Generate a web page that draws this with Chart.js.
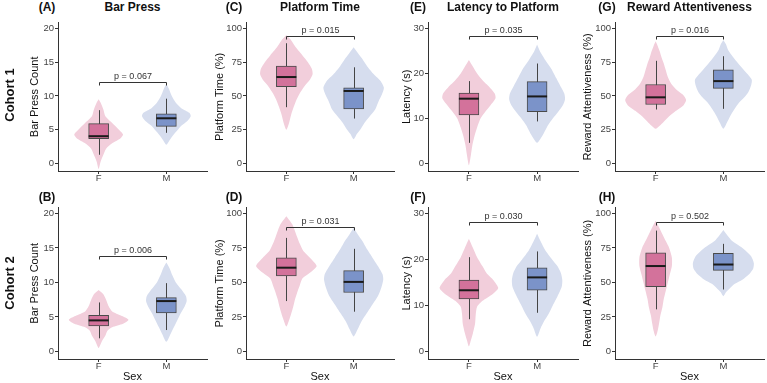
<!DOCTYPE html>
<html>
<head>
<meta charset="utf-8">
<script src="https://cdn.jsdelivr.net/npm/chart.js@4.4.1/dist/chart.umd.min.js"></script>
<style>
  body { margin: 0; background: #fff; font-family: "Liberation Sans", Arial, sans-serif; }
  #wrap { position: relative; width: 767px; height: 383px; overflow: hidden; }
  canvas { position: absolute; }
  .lbl { position: absolute; font-weight: bold; font-size: 12px; line-height: 14px; color: #111; white-space: nowrap; transform: translateX(-50%); }
  .cohort { position: absolute; font-weight: bold; font-size: 13px; line-height: 16px; color: #111; white-space: nowrap; transform: translate(-50%, -50%) rotate(-90deg); }
</style>
</head>
<body>
<div id="wrap"></div>
<script>
const sexes = ["F", "M"];
const cohorts = ["Cohort 1", "Cohort 2"];
const panelLetters = [["(A)", "(C)", "(E)", "(G)"], ["(B)", "(D)", "(F)", "(H)"]];
const panelTitles = ["Bar Press", "Platform Time", "Latency to Platform", "Reward Attentiveness"];
const yTitles = ["Bar Press Count", "Platform Time (%)", "Latency (s)", "Reward Attentiveness (%)"];
const yTickValues = [[0, 5, 10, 15, 20], [0, 25, 50, 75, 100], [0, 10, 20, 30], [0, 25, 50, 75, 100]];
const pLabels = [["p = 0.067", "p = 0.015", "p = 0.035", "p = 0.016"], ["p = 0.006", "p = 0.031", "p = 0.030", "p = 0.502"]];
const bracketY = [[12.0, 94.5, 28.2, 94.5], [13.9, 90.4, 28.1, 93.6]];

// box stats per sex: [lower whisker, q1, median, q3, upper whisker]
const boxA = [[1.3, 3.7, 4.05, 5.9, 7.9], [4.55, 5.5, 6.7, 7.35, 9.6]];
const boxC = [[41.7, 56.8, 64, 72.2, 89], [33.3, 40.5, 53.7, 56, 71.2]];
const boxE = [[4.6, 10.8, 14.4, 15.65, 18.3], [9.35, 11.5, 14.9, 18.2, 22.2]];
const boxG = [[40, 43.7, 49, 58.5, 76], [40.5, 55.6, 61, 69.3, 79.4]];
const boxB = [[1.9, 3.7, 4.5, 5.25, 7.1], [3.1, 5.6, 7.3, 7.8, 9.9]];
const boxD = [[36.5, 54.7, 60.7, 67.9, 82.3], [28.8, 42.7, 50.4, 58.6, 74.4]];
const boxF = [[7.0, 11.4, 13.3, 15.5, 20.5], [8.4, 13.3, 16.1, 18.2, 21.75]];
const boxH = [[30.5, 47, 61.9, 71.5, 87.6], [44.9, 58.8, 63, 71.2, 78]];

// violin outlines, top to bottom: [value, half width on the x scale]
const violinA_F = [[9.5,0],[9,0.03],[8,0.07],[7,0.1],[6,0.2],[5,0.3],[4.3,0.36],[3.7,0.32],[3,0.2],[2.2,0.11],[1.3,0.07],[0.3,0.03],[-0.8,0]];
const violinA_M = [[11.8,0],[11,0.04],[10,0.08],[9,0.14],[8.2,0.22],[7.5,0.34],[7,0.36],[6.3,0.31],[5.6,0.22],[4.9,0.16],[4.2,0.1],[3.5,0.05],[2.8,0]];
const violinC_F = [[95,0],[92,0.06],[86,0.14],[80,0.24],[75,0.32],[70,0.38],[66,0.39],[62,0.35],[58,0.28],[52,0.2],[46,0.14],[42,0.11],[36,0.07],[30,0.04],[25,0]];
const violinC_M = [[86,0],[82,0.06],[78,0.12],[72,0.2],[66,0.3],[61,0.4],[56,0.45],[51,0.42],[46,0.37],[40,0.32],[35,0.24],[30,0.16],[26,0.11],[22,0.05],[18,0]];
const violinE_F = [[23,0],[21.5,0.06],[20,0.12],[18.5,0.2],[17,0.3],[15.5,0.38],[14.5,0.39],[13,0.32],[11.5,0.24],[10,0.17],[8,0.12],[6,0.08],[4,0.05],[2,0.03],[-0.4,0]];
const violinE_M = [[26.4,0],[25,0.04],[23,0.12],[21,0.21],[19,0.28],[17,0.35],[15.5,0.4],[14.3,0.41],[13,0.38],[11.5,0.31],[10,0.23],[8.5,0.16],[6.5,0.09],[4.6,0]];
const violinG_F = [[90.4,0],[87,0.03],[83,0.06],[78,0.09],[74,0.12],[69,0.15],[64,0.18],[59,0.23],[55,0.3],[51,0.4],[47,0.45],[43,0.41],[39,0.3],[35,0.2],[31,0.12],[28,0.06],[25.7,0]];
const violinG_M = [[91.4,0],[88,0.04],[84,0.07],[79,0.14],[74,0.22],[70,0.29],[66,0.36],[62,0.42],[58,0.41],[53,0.37],[49,0.31],[45,0.23],[40,0.16],[35,0.1],[30,0.05],[25.7,0]];
const violinB_F = [[8.9,0],[8.3,0.07],[7.5,0.11],[6.5,0.15],[5.8,0.2],[5.2,0.33],[4.6,0.44],[4,0.36],[3.5,0.2],[3,0.13],[2.3,0.1],[1.5,0.05],[0.5,0]];
const violinB_M = [[12.9,0],[12,0.05],[11,0.09],[10,0.14],[9,0.22],[8,0.29],[7.3,0.3],[6.5,0.27],[5.5,0.21],[4.5,0.16],[3.5,0.11],[2.5,0.06],[1.4,0]];
const violinD_F = [[98,0],[92,0.09],[83,0.16],[78,0.2],[73,0.25],[68,0.35],[62,0.45],[57,0.35],[53,0.24],[48,0.2],[44,0.17],[38,0.13],[32,0.1],[24,0.05],[18,0]];
const violinD_M = [[89.5,0],[85,0.06],[80,0.13],[74,0.2],[68,0.28],[62,0.36],[56,0.43],[52,0.44],[46,0.41],[40,0.36],[34,0.28],[28,0.2],[22,0.12],[16,0.06],[10.8,0]];
const violinF_F = [[24.5,0],[22.5,0.06],[20.5,0.12],[18.5,0.2],[17,0.26],[15.5,0.36],[13.8,0.43],[12.5,0.35],[11,0.2],[9.7,0.12],[8,0.1],[6,0.09],[4,0.06],[2.5,0.03],[1.1,0]];
const violinF_M = [[25.6,0],[24,0.05],[22,0.12],[20,0.22],[18.5,0.3],[17,0.35],[15.5,0.37],[14,0.36],[12,0.3],[10,0.23],[8.2,0.17],[6.5,0.1],[5,0.05],[3.2,0]];
const violinH_F = [[94.7,0],[90,0.05],[85,0.1],[80,0.15],[75,0.2],[68,0.24],[62,0.24],[56,0.21],[50,0.18],[44,0.15],[38,0.12],[32,0.1],[26,0.07],[20,0.05],[15,0.03],[10.8,0]];
const violinH_M = [[88,0],[84,0.06],[80,0.13],[76,0.25],[73,0.33],[69,0.41],[64,0.45],[60,0.44],[56,0.38],[52,0.28],[49,0.17],[46,0.1],[43,0.04],[40,0]];

const boxes = [[boxA, boxC, boxE, boxG], [boxB, boxD, boxF, boxH]];
const violins = [
  [[violinA_F, violinA_M], [violinC_F, violinC_M], [violinE_F, violinE_M], [violinG_F, violinG_M]],
  [[violinB_F, violinB_M], [violinD_F, violinD_M], [violinF_F, violinF_M], [violinH_F, violinH_M]]
];

// page layout (px)
const colCanvasLeft = [24, 209, 396, 577];
const colPlotLeft = [58, 246, 428, 615];
const colPlotRight = [207, 394, 578, 764];
const rowPlotTop = [20, 205];
const rowPlotBottom = [171, 359];
const rowXAxisH = [14, 25];

const violinColors = ["#f2cedb", "#d6ddee"];
const boxColors = ["#d3729b", "#7b93c9"];
const ink = "#333333";

Chart.defaults.font.family = '"Liberation Sans", Arial, sans-serif';

const wrap = document.getElementById("wrap");

function addLabel(text, cls, x, y) {
  const d = document.createElement("div");
  d.className = cls;
  d.textContent = text;
  d.style.left = x + "px";
  d.style.top = y + "px";
  wrap.appendChild(d);
}

function violinPoints(profile, center) {
  const right = profile.map(([v, w]) => ({ x: center + w, y: v }));
  const left = profile.slice(0, -1).reverse().map(([v, w]) => ({ x: center - w, y: v }));
  return right.concat(left);
}

function boxExtras(stats, bracket, label) {
  return {
    id: "boxExtras",
    beforeDatasetDraw(chart, args) {
      if (args.meta.type !== "bar") return;
      const { ctx, scales: { x, y } } = chart;
      ctx.save();
      ctx.strokeStyle = "#444";
      ctx.lineWidth = 1;
      stats.forEach((s, i) => {
        const px = Math.round(x.getPixelForValue(i + 1)) + 0.5;
        ctx.beginPath();
        ctx.moveTo(px, y.getPixelForValue(s[0]));
        ctx.lineTo(px, y.getPixelForValue(s[4]));
        ctx.stroke();
      });
      ctx.restore();
    },
    afterDatasetsDraw(chart) {
      const { ctx, scales: { x, y } } = chart;
      const bars = chart.getDatasetMeta(2).data;
      ctx.save();
      // medians
      ctx.strokeStyle = "#1a1a1a";
      ctx.lineWidth = 2;
      stats.forEach((s, i) => {
        const half = bars[i].width / 2;
        const px = x.getPixelForValue(i + 1);
        const py = y.getPixelForValue(s[2]);
        ctx.beginPath();
        ctx.moveTo(px - half, py);
        ctx.lineTo(px + half, py);
        ctx.stroke();
      });
      // significance bracket
      const x1 = Math.round(x.getPixelForValue(1)) + 0.5;
      const x2 = Math.round(x.getPixelForValue(2)) + 0.5;
      const by = Math.round(y.getPixelForValue(bracket)) + 0.5;
      ctx.strokeStyle = ink;
      ctx.lineWidth = 1;
      ctx.beginPath();
      ctx.moveTo(x1, by + 3);
      ctx.lineTo(x1, by);
      ctx.lineTo(x2, by);
      ctx.lineTo(x2, by + 3);
      ctx.stroke();
      ctx.fillStyle = ink;
      ctx.font = '9px "Liberation Sans", Arial, sans-serif';
      ctx.textAlign = "center";
      ctx.textBaseline = "bottom";
      ctx.fillText(label, (x1 + x2) / 2, by - 1);
      ctx.restore();
    }
  };
}

for (let r = 0; r < 2; r++) {
  for (let c = 0; c < 4; c++) {
    const left = colCanvasLeft[c];
    const top = rowPlotTop[r] - 4;
    const width = colPlotRight[c] + 3 - left;
    const height = rowPlotBottom[r] + rowXAxisH[r] - top;
    const canvas = document.createElement("canvas");
    canvas.width = width;
    canvas.height = height;
    canvas.style.left = left + "px";
    canvas.style.top = top + "px";
    wrap.appendChild(canvas);

    const ticks = yTickValues[c];
    const topTick = ticks[ticks.length - 1];
    const stats = boxes[r][c];
    const vio = violins[r][c];

    new Chart(canvas, {
      type: "bar",
      data: {
        datasets: [
          { type: "line", data: violinPoints(vio[0], 1), fill: "shape", backgroundColor: violinColors[0],
            borderWidth: 0, pointRadius: 0, tension: 0.22, order: 2 },
          { type: "line", data: violinPoints(vio[1], 2), fill: "shape", backgroundColor: violinColors[1],
            borderWidth: 0, pointRadius: 0, tension: 0.22, order: 2 },
          { type: "bar", data: stats.map((s, i) => ({ x: i + 1, y: [s[1], s[3]] })),
            backgroundColor: boxColors, borderColor: "#4a4a4a", borderWidth: 1, borderSkipped: false,
            barThickness: 20, order: 1 }
        ]
      },
      options: {
        responsive: false,
        animation: false,
        layout: { padding: { top: 4, right: 3, left: 0, bottom: 0 } },
        plugins: { legend: { display: false }, tooltip: { enabled: false } },
        scales: {
          x: {
            type: "linear",
            min: 0.4,
            max: 2.6,
            offset: false,
            afterBuildTicks: (s) => { s.ticks = sexes.map((_, i) => ({ value: i + 1 })); },
            afterFit: (s) => { s.height = rowXAxisH[r]; },
            grid: { display: true, drawOnChartArea: false, drawTicks: true, tickLength: 3, color: ink, offset: false },
            border: { display: true, color: ink, width: 1 },
            ticks: { autoSkip: false, maxRotation: 0, padding: -1, color: "#444", font: { size: 9.5 },
              callback: (v) => sexes[v - 1] },
            title: { display: r === 1, text: "Sex", color: "#111", font: { size: 11 }, padding: { top: 0, bottom: 0 } }
          },
          y: {
            type: "linear",
            min: -0.055 * topTick,
            max: 1.042 * topTick,
            afterBuildTicks: (s) => { s.ticks = ticks.map((v) => ({ value: v })); },
            afterFit: (s) => { s.width = colPlotLeft[c] - left; },
            grid: { display: true, drawOnChartArea: false, drawTicks: true, tickLength: 3, color: ink },
            border: { display: true, color: ink, width: 1 },
            ticks: { padding: 1, color: "#444", font: { size: 9.5 } },
            title: { display: true, text: yTitles[c], color: "#111", font: { size: 11 }, padding: { top: 4, bottom: 0 } }
          }
        }
      },
      plugins: [boxExtras(stats, bracketY[r][c], pLabels[r][c])]
    });

    const mid = (colPlotLeft[c] + colPlotRight[c]) / 2;
    const letterX = [47, 234, 418, 607][c];
    addLabel(panelLetters[r][c], "lbl", letterX, r === 0 ? 0 : 190);
    if (r === 0) addLabel(panelTitles[c], "lbl", mid, 0);
  }
}

addLabel(cohorts[0], "cohort", 10, 95);
addLabel(cohorts[1], "cohort", 10, 283);
</script>
</body>
</html>
